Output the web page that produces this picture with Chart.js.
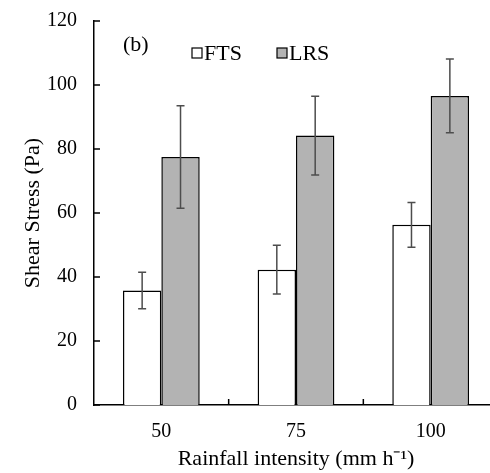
<!DOCTYPE html>
<html>
<head>
<meta charset="utf-8">
<script src="https://cdn.jsdelivr.net/npm/chart.js@4"></script>
<style>
  html, body { margin: 0; padding: 0; background: #fff; overflow: hidden; }
  /* canvas shifted up a little so the plot top lands at y=21 */
  #wrap { width: 498px; height: 481px; position: absolute; left: 0; top: -8px; }
</style>
</head>
<body>
<div id="wrap"><canvas id="shearChart"></canvas></div>
<script>
// values (b)
const rainfall = ['50', '75', '100'];
const ftsStress = [35.8, 42.3, 56.3];
const ftsError = [5.7, 7.6, 7.0];
const lrsStress = [77.5, 84.2, 96.6];
const lrsError = [16.0, 12.3, 11.5];
const yTicks = [0, 20, 40, 60, 80, 100, 120];

const serif = '"Liberation Serif", "Times New Roman", serif';

// error bars, drawn with the chart's own scales
const errorBars = {
    id: 'errorBars',
    afterDatasetsDraw(chart) {
        const ctx = chart.ctx;
        const y = chart.scales.y;
        ctx.save();
        ctx.strokeStyle = '#4d4d4d';
        ctx.lineWidth = 1.5;
        chart.data.datasets.forEach((ds, di) => {
            const meta = chart.getDatasetMeta(di);
            meta.data.forEach((bar, i) => {
                const v = ds.data[i], e = ds.errors[i];
                const top = y.getPixelForValue(v + e);
                const bot = y.getPixelForValue(v - e);
                ctx.beginPath();
                ctx.moveTo(bar.x, top); ctx.lineTo(bar.x, bot);
                ctx.moveTo(bar.x - 4, top); ctx.lineTo(bar.x + 4, top);
                ctx.moveTo(bar.x - 4, bot); ctx.lineTo(bar.x + 4, bot);
                ctx.stroke();
            });
        });
        ctx.restore();
    }
};

// inward tick marks, panel letter and legend
const decorations = {
    id: 'decorations',
    afterDraw(chart) {
        const ctx = chart.ctx;
        const x = chart.scales.x, y = chart.scales.y;
        const area = chart.chartArea;
        ctx.save();
        ctx.strokeStyle = '#000';
        ctx.lineWidth = 1.5;
        ctx.beginPath();
        yTicks.forEach(t => {
            const py = y.getPixelForValue(t);
            ctx.moveTo(area.left, py); ctx.lineTo(area.left + 6, py);
        });
        for (let i = 0; i < rainfall.length - 1; i++) {
            const px = (x.getPixelForValue(i) + x.getPixelForValue(i + 1)) / 2;
            ctx.moveTo(px, area.bottom); ctx.lineTo(px, area.bottom - 6);
        }
        ctx.stroke();

        ctx.fillStyle = '#000';
        ctx.font = '22px ' + serif;
        ctx.textBaseline = 'middle';
        ctx.fillText('(b)', 123, area.top + 24);

        // legend
        const ly = area.top + 32;
        const items = [[192, 0], [277, 1]];
        items.forEach(([lx, di]) => {
            const ds = chart.data.datasets[di];
            ctx.fillStyle = ds.backgroundColor;
            ctx.fillRect(lx, ly - 5, 10, 10);
            ctx.lineWidth = 1.2;
            ctx.strokeRect(lx, ly - 5, 10, 10);
            ctx.fillStyle = '#000';
            ctx.fillText(ds.label, lx + 12, ly + 1);
        });
        ctx.restore();
    }
};

new Chart(document.getElementById('shearChart'), {
    type: 'bar',
    data: {
        labels: rainfall,
        datasets: [
            {
                label: 'FTS',
                data: ftsStress,
                errors: ftsError,
                backgroundColor: '#ffffff',
                borderColor: '#000000',
                borderWidth: 1.5
            },
            {
                label: 'LRS',
                data: lrsStress,
                errors: lrsError,
                backgroundColor: '#b3b3b3',
                borderColor: '#000000',
                borderWidth: 1.5
            }
        ]
    },
    options: {
        responsive: true,
        maintainAspectRatio: false,
        devicePixelRatio: 1,
        animation: false,
        layout: { padding: { top: 7, left: 0, right: 0, bottom: 0 } },
        categoryPercentage: 0.57,
        barPercentage: 1.0,
        plugins: {
            legend: { display: false },
            tooltip: { enabled: false }
        },
        scales: {
            x: {
                grid: { display: false, drawTicks: false },
                border: { display: true, color: '#000', width: 1.5 },
                ticks: { color: '#000', font: { family: serif, size: 20 }, padding: 15 },
                title: {
                    display: true,
                    text: 'Rainfall intensity (mm h\u207B\u00B9)',
                    color: '#000',
                    font: { family: serif, size: 22 },
                    padding: { top: 0, bottom: 1 }
                },
                afterFit(scale) { scale.height = 68; }
            },
            y: {
                min: 0,
                max: 120,
                grid: { display: false, drawTicks: false },
                border: { display: true, color: '#000', width: 1.5 },
                ticks: { stepSize: 20, color: '#000', font: { family: serif, size: 20 }, padding: 17 },
                title: {
                    display: true,
                    text: 'Shear Stress (Pa)',
                    color: '#000',
                    font: { family: serif, size: 22 },
                    padding: { top: 20, bottom: 0 }
                },
                afterFit(scale) { scale.width = 94; }
            }
        }
    },
    plugins: [errorBars, decorations]
});
</script>
</body>
</html>
